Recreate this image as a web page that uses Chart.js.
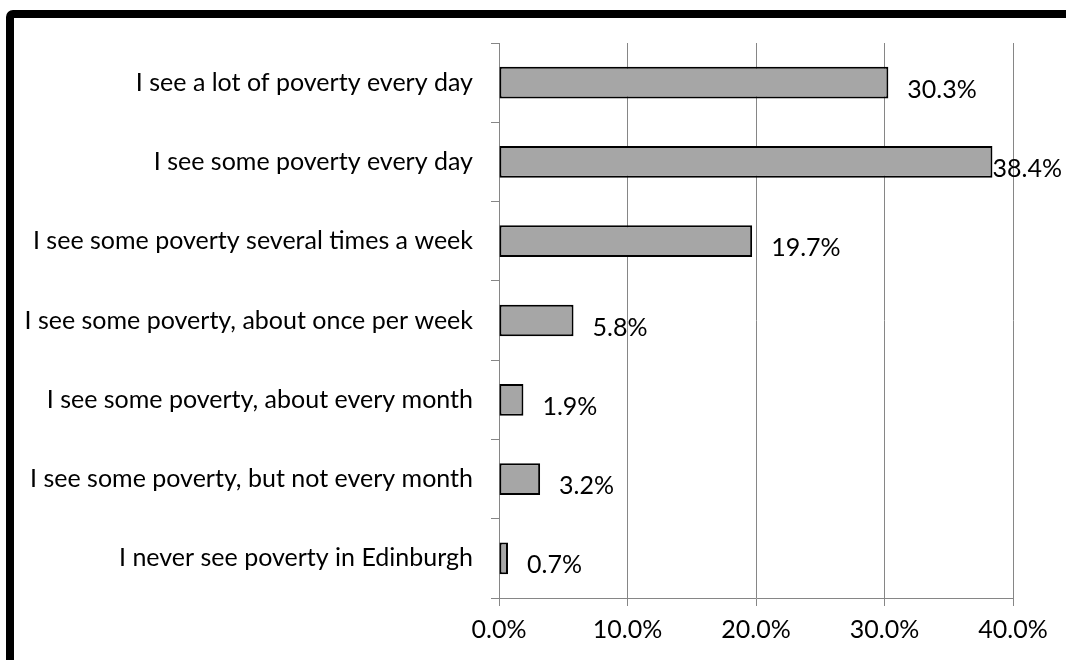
<!DOCTYPE html>
<html>
<head>
<meta charset="utf-8">
<script src="https://cdn.jsdelivr.net/npm/chart.js@4"></script>
<style>
    html, body { margin: 0; padding: 0; background: #fff; overflow: hidden; }
    #frame {
        position: absolute; left: 6px; top: 10px;
        width: 1200px; height: 800px;
        border: 8px solid #000; border-radius: 7px;
        box-sizing: border-box; pointer-events: none;
    }
    #wrap { position: absolute; left: 0; top: 0; width: 1066px; height: 660px; }
</style>
</head>
<body>
<div id="wrap"><canvas id="chart"></canvas></div>
<div id="frame"></div>
<script>
// Catégories et valeurs (en %)
const categories = [
    'I see a lot of poverty every day',
    'I see some poverty every day',
    'I see some poverty several times a week',
    'I see some poverty, about once per week',
    'I see some poverty, about every month',
    'I see some poverty, but not every month',
    'I never see poverty in Edinburgh'
];
const values = [30.3, 38.4, 19.7, 5.8, 1.9, 3.2, 0.7];
const xTicks = [0, 10, 20, 30, 40];

const FONT = 'Lato';
const FONT_SIZE = 25;
const gridGrey = '#868686';

// Étiquettes de valeurs à droite des barres
const valueLabels = {
    id: 'valueLabels',
    afterDatasetsDraw(chart) {
        const ctx = chart.ctx;
        const meta = chart.getDatasetMeta(0);
        ctx.save();
        ctx.font = FONT_SIZE + 'px ' + FONT;
        ctx.fillStyle = '#000';
        ctx.textBaseline = 'middle';
        ctx.textAlign = 'left';
        meta.data.forEach((bar, i) => {
            const txt = values[i].toFixed(1) + '%';
            const w = ctx.measureText(txt).width;
            let x = bar.x + 19;
            x = Math.min(x, chart.width - w - 4);
            ctx.fillText(txt, x, bar.y + 7);
        });
        ctx.restore();
    }
};

new Chart(document.getElementById('chart'), {
    type: 'bar',
    data: {
        labels: categories,
        datasets: [{
            data: values,
            backgroundColor: '#a6a6a6',
            borderColor: '#000',
            borderWidth: 2,
            borderSkipped: false,
            categoryPercentage: 1,
            barPercentage: 0.4
        }]
    },
    options: {
        indexAxis: 'y',
        responsive: true,
        maintainAspectRatio: false,
        animation: false,
        layout: { padding: { top: 43, right: 53, left: 0, bottom: 0 } },
        plugins: {
            legend: { display: false },
            tooltip: { enabled: false }
        },
        scales: {
            x: {
                min: 0,
                max: 40,
                afterBuildTicks: scale => { scale.ticks = xTicks.map(v => ({ value: v })); },
                afterFit: scale => { scale.height = 62; },
                ticks: {
                    color: '#000',
                    font: { family: FONT, size: FONT_SIZE },
                    padding: 9,
                    callback: v => Number(v).toFixed(1) + '%'
                },
                grid: { color: gridGrey, lineWidth: 1, tickLength: 8, drawOnChartArea: true },
                border: { display: true, color: gridGrey, width: 1 }
            },
            y: {
                afterFit: scale => { scale.width = 499; },
                ticks: {
                    color: '#000',
                    font: { family: FONT, size: FONT_SIZE },
                    padding: 18
                },
                grid: { color: gridGrey, lineWidth: 1, tickLength: 8, drawOnChartArea: false, offset: true },
                border: { display: true, color: gridGrey, width: 1 }
            }
        }
    },
    plugins: [valueLabels]
});
</script>
</body>
</html>
